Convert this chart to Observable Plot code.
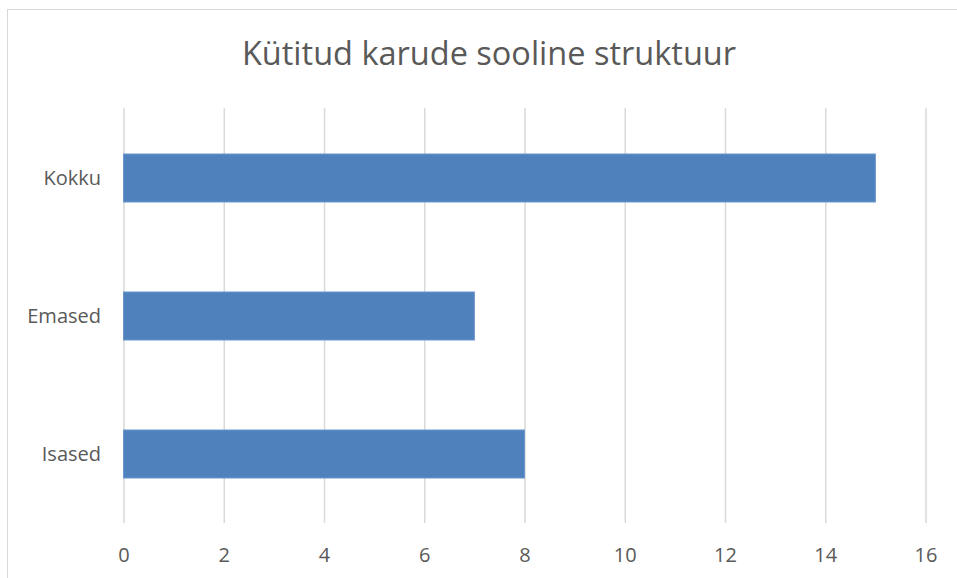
<!DOCTYPE html>
<html>
<head>
<meta charset="utf-8">
<script src="https://cdn.jsdelivr.net/npm/d3@7"></script>
<script src="https://cdn.jsdelivr.net/npm/@observablehq/plot@0.6"></script>
<style>
  html, body { margin: 0; padding: 0; background: #fff; }
  #wrap { position: relative; width: 957px; height: 578px; overflow: hidden; font-family: "Open Sans", Lato, sans-serif; }
  #frame { position: absolute; left: 7px; top: 9px; width: 960px; height: 580px; border-left: 1.5px solid #d9d9d9; border-top: 1.5px solid #d9d9d9; }
  #title { position: absolute; left: 0; width: 978px; top: 37px; text-align: center; font-size: 32.5px; line-height: 32.5px; color: #595959; font-weight: 400; white-space: nowrap; }
  #chart { position: absolute; left: 0; top: 100px; }
</style>
</head>
<body>
<div id="wrap">
  <div id="frame"></div>
  <div id="title">Kütitud karude sooline struktuur</div>
  <div id="chart"></div>
</div>
<script>
const categories = ["Kokku", "Emased", "Isased"];
const values = [15, 7, 8];
const xTicks = [0, 2, 4, 6, 8, 10, 12, 14, 16];

const data = categories.map((c, i) => ({category: c, value: values[i]}));

const plot = Plot.plot({
  width: 957,
  height: 478,
  marginTop: 8,
  marginBottom: 55,
  marginLeft: 123.5,
  marginRight: 31.5,
  style: {fontFamily: "'Open Sans', Lato, sans-serif", fontSize: "20px", color: "#595959", background: "transparent"},
  x: {domain: [0, 16], ticks: xTicks},
  y: {domain: categories, padding: 0},
  marks: [
    Plot.gridX(xTicks, {stroke: "#d9d9d9", strokeOpacity: 1, strokeWidth: 1.5}),
    Plot.barX(data, {y: "category", x: "value", fill: "#4f81bd", stroke: "#6b97cc", strokeWidth: 1, insetTop: 45, insetBottom: 45}),
    Plot.axisX({ticks: xTicks, tickSize: 0, tickPadding: 24, label: null, fill: "#595959", fontSize: 20}),
    Plot.axisY({tickSize: 0, tickPadding: 23, label: null, fill: "#595959", fontSize: 20})
  ]
});
document.getElementById("chart").appendChild(plot);
</script>
</body>
</html>
